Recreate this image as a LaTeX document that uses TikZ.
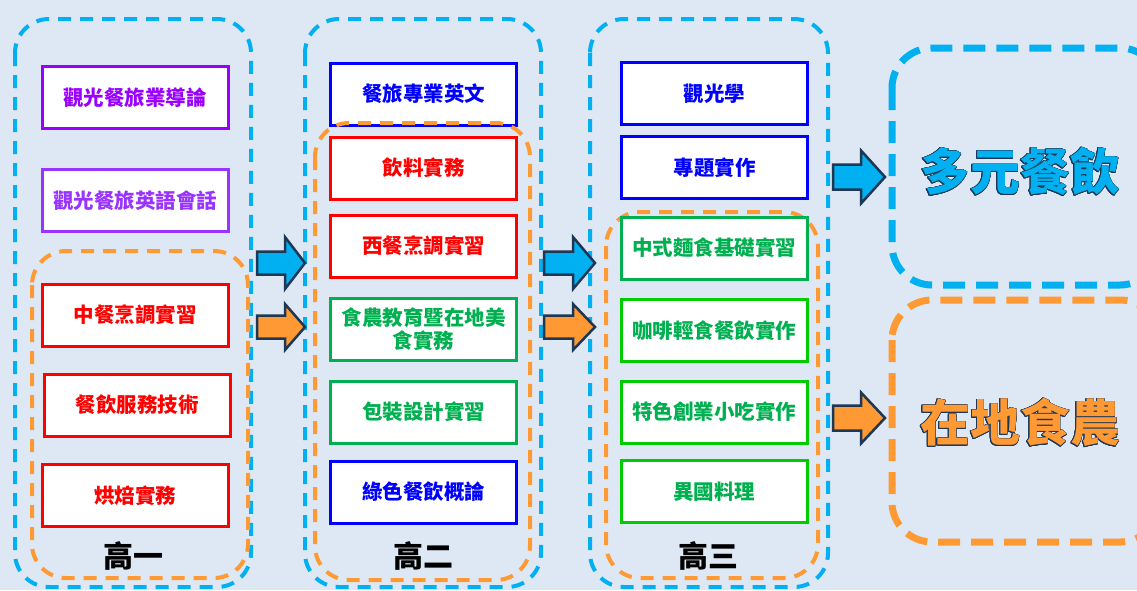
\documentclass[tikz,border=0pt]{standalone}
\usepackage{fontspec}
\setmainfont{Noto Sans CJK TC}
\usepackage{contour}
\contourlength{0.6pt}
\definecolor{bgc}{RGB}{221,232,244}
\definecolor{dblue}{RGB}{0,176,240}
\definecolor{dorange}{RGB}{255,153,51}
\definecolor{cpurple}{RGB}{153,0,255}
\definecolor{cpurple2}{RGB}{153,51,255}
\definecolor{cred}{RGB}{255,0,0}
\definecolor{cblue}{RGB}{0,0,255}
\definecolor{cgreen}{RGB}{0,176,80}
\definecolor{cgreen2}{RGB}{0,204,0}
\definecolor{anavy}{RGB}{30,55,85}
\tikzset{
  colbox/.style={line width=4pt, dash pattern=on 13pt off 9pt, rounded corners=34pt},
  bigbox/.style={line width=7pt, dash pattern=on 22pt off 11pt, rounded corners=40pt},
  course/.style={draw=#1, text=#1, line width=3pt, fill=white, minimum width=186pt,
    minimum height=62pt, inner sep=2pt, align=center,
    font=\bfseries\fontsize{20.5}{23}\selectfont},
  yearlbl/.style={font=\bfseries\fontsize{30}{32}\selectfont, text=black},
  arrowline/.style={draw=anavy, line width=2.5pt, line join=miter},
  goal/.style={font=\bfseries\fontsize{50}{52}\selectfont}
}
\newcommand\blockarr[7]{\draw[arrowline, fill=#7] ({#1},{#4-#5}) -- ({#2},{#4-#5}) -- ({#2},{#4-#6}) -- ({#3},{#4}) -- ({#2},{#4+#6}) -- ({#2},{#4+#5}) -- ({#1},{#4+#5}) -- cycle;}
\begin{document}
\begin{tikzpicture}[x=1pt,y=-1pt]
\fill[bgc] (0,0) rectangle (1137,590);
\useasboundingbox (0,0) rectangle (1137,590);
% column frames
\draw[colbox, dblue] (15,19) rectangle (251,587);
\draw[colbox, dorange] (32,251) rectangle (248,578);
\draw[colbox, dblue] (305,19) rectangle (541,587);
\draw[colbox, dblue] (590,19) rectangle (828,587);
% column 1
\node[course=cpurple] (a1) at (135,97.5) {觀光餐旅業導論};
\node[course=cpurple2] (a2) at (135,200.5) {觀光餐旅英語會話};
\node[course=cred] (a3) at (135,315) {中餐烹調實習};
\node[course=cred] (a4) at (137,405) {餐飲服務技術};
\node[course=cred] (a5) at (135,495.5) {烘焙實務};
\node[yearlbl] (y1) at (133,556) {高一};
% column 2
\node[course=cblue] (b1) at (423.5,94) {餐旅專業英文};
\draw[colbox, dorange] (315,123) rectangle (530,580);
\node[course=cred] (b2) at (423.5,168) {飲料實務};
\node[course=cred] (b3) at (423.5,246) {西餐烹調實習};
\node[course=cgreen] (b4) at (423.5,329.5) {食農教育暨在地美\\食實務};
\node[course=cgreen] (b5) at (423.5,412) {包裝設計實習};
\node[course=cblue] (b6) at (423.5,492) {綠色餐飲概論};
\node[yearlbl] (y2) at (423,556) {高二};
% column 3
\node[course=cblue] (c1) at (714.5,93.5) {觀光學};
\node[course=cblue] (c2) at (714.5,167.5) {專題實作};
\draw[colbox, dorange] (606,212) rectangle (818,578);
\node[course=cgreen] (c3) at (714,248) {中式麵食基礎實習};
\node[course=cgreen2, text=cgreen] (c4) at (714,330.5) {咖啡輕食餐飲實作};
\node[course=cgreen2, text=cgreen] (c5) at (714,412) {特色創業小吃實作};
\node[course=cgreen2, text=cgreen] (c6) at (714,491.5) {異國料理};
\node[yearlbl] (y3) at (708,556) {高三};
% goals
\draw[bigbox, dblue] (892,48) rectangle (1160,285);
\draw[bigbox, dorange] (892,300) rectangle (1160,542);
\node[goal] (g1) at (1020,172) {\contour{anavy}{\textcolor{dblue}{多元餐飲}}};
\node[goal] (g2) at (1020,423) {\contour{anavy}{\textcolor{dorange}{在地食農}}};
% arrows
\blockarr{257}{285}{305}{263}{11.5}{26}{dblue}
\blockarr{257}{285}{305}{327}{11.5}{23}{dorange}
\blockarr{544}{573}{595}{263}{11.5}{26}{dblue}
\blockarr{544}{573}{595}{327}{11.5}{23}{dorange}
\blockarr{833}{861}{885}{177}{12.5}{26.5}{dblue}
\blockarr{833}{861}{885}{418}{12.5}{25.5}{dorange}
\end{tikzpicture}
\end{document}
